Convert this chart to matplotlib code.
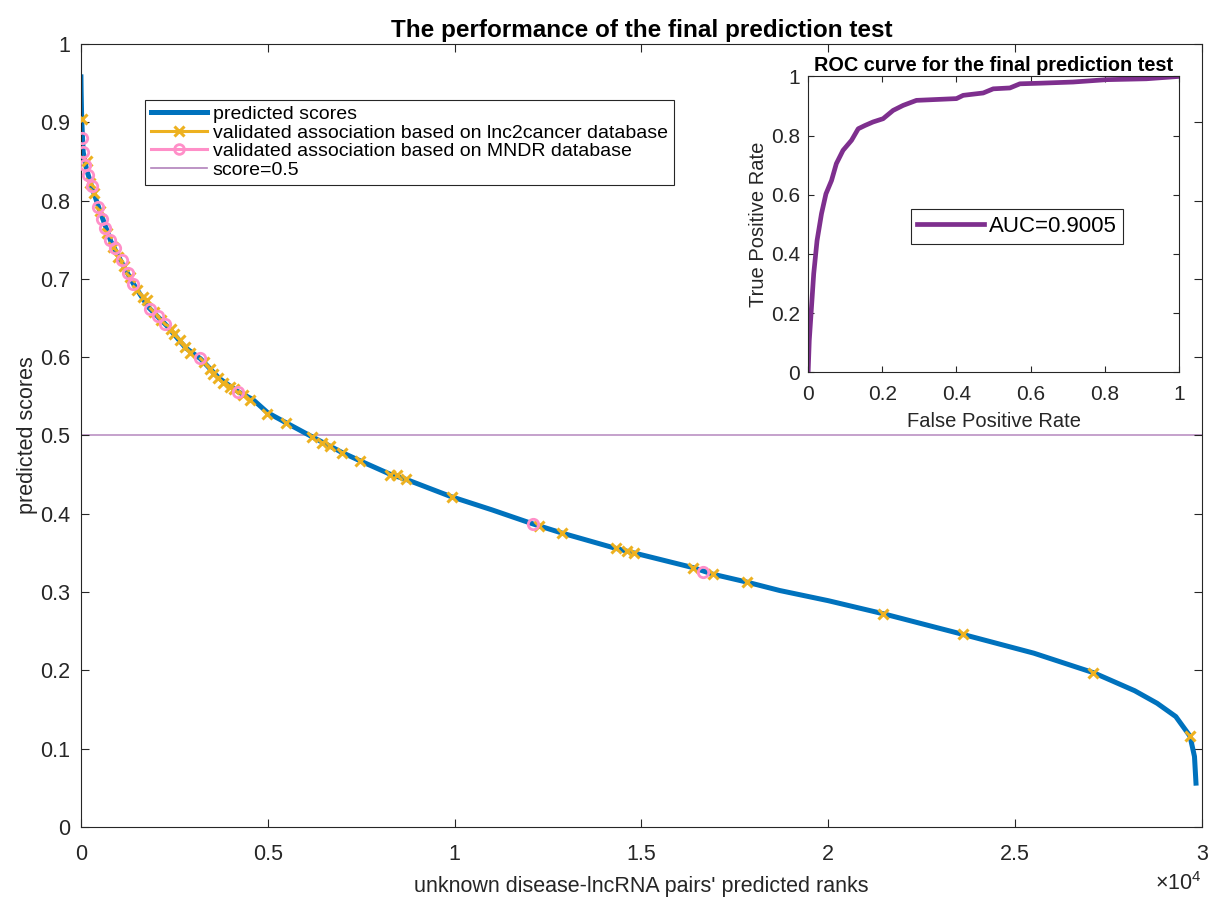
import matplotlib
matplotlib.use('Agg')
import matplotlib.pyplot as plt
from matplotlib.lines import Line2D

plt.rcParams['font.family'] = ['Liberation Sans', 'DejaVu Sans']
plt.rcParams['mathtext.fontset'] = 'custom'
plt.rcParams['mathtext.rm'] = 'Liberation Sans'

# predicted score curve (rank, score)
curve_rank = [0, 5, 20, 60, 150, 300, 500, 800, 1100, 1400, 1800, 2300, 2800, 3200,
              3700, 4200, 4600, 5000, 5500, 6200, 7000, 7500, 8300, 8700, 9900,
              11000, 12100, 12900, 14300, 14800, 16400, 16900, 17800, 18700, 20000,
              21500, 23600, 25500, 27100, 28200, 28800, 29300, 29680, 29800, 29840]
curve_score = [0.958, 0.94, 0.904, 0.862, 0.84, 0.816, 0.788, 0.748, 0.72, 0.694,
               0.664, 0.640, 0.612, 0.598, 0.573, 0.556, 0.546, 0.529, 0.516, 0.498,
               0.478, 0.467, 0.450, 0.444, 0.422, 0.405, 0.387, 0.375, 0.356, 0.350,
               0.331, 0.323, 0.313, 0.302, 0.289, 0.272, 0.246, 0.222, 0.197, 0.174,
               0.158, 0.141, 0.116, 0.09, 0.056]

# validated associations, lnc2cancer
lnc_rank = [20, 150, 250, 350, 500, 700, 850, 1000, 1150, 1300, 1490, 1650, 1757,
            1950, 2150, 2400, 2500, 2650, 2783, 2917, 3300, 3450, 3541, 3675, 3809,
            3987, 4100, 4350, 4522, 4968, 5486, 6182, 6450, 6664, 6985, 7467, 8269,
            8450, 8697, 9928, 12250, 12872, 14317, 14611, 14800, 16378, 16913, 17823,
            21463, 23604, 27083, 29679]
lnc_score = [0.904, 0.850, 0.822, 0.810, 0.787, 0.758, 0.741, 0.728, 0.717, 0.703,
             0.686, 0.677, 0.673, 0.658, 0.648, 0.636, 0.630, 0.622, 0.613, 0.605,
             0.594, 0.585, 0.579, 0.573, 0.567, 0.562, 0.559, 0.552, 0.545, 0.528,
             0.516, 0.498, 0.490, 0.487, 0.478, 0.467, 0.450, 0.449, 0.444, 0.422,
             0.385, 0.375, 0.356, 0.352, 0.350, 0.331, 0.323, 0.313, 0.272, 0.246,
             0.197, 0.116]

# validated associations, MNDR
mndr_rank = [19, 62, 107, 196, 286, 464, 553, 642, 776, 910, 1088, 1266, 1400, 1846,
             2069, 2248, 3184, 4209, 12096, 16646]
mndr_score = [0.880, 0.862, 0.845, 0.833, 0.818, 0.792, 0.777, 0.765, 0.750, 0.739,
              0.724, 0.707, 0.694, 0.662, 0.652, 0.643, 0.599, 0.556, 0.387, 0.326]

# ROC curve
fpr = [0, 0.003, 0.009, 0.015, 0.024, 0.036, 0.048, 0.063, 0.076, 0.094, 0.117, 0.135,
       0.153, 0.175, 0.202, 0.229, 0.256, 0.292, 0.328, 0.400, 0.418, 0.472, 0.499,
       0.544, 0.571, 0.624, 0.714, 0.804, 0.912, 1.0]
tpr = [0, 0.107, 0.22, 0.333, 0.445, 0.536, 0.603, 0.648, 0.705, 0.750, 0.784, 0.823,
       0.834, 0.846, 0.857, 0.885, 0.902, 0.919, 0.921, 0.925, 0.936, 0.944, 0.958,
       0.961, 0.975, 0.977, 0.981, 0.989, 0.992, 1.0]

blue = '#0072BD'
orange = '#EDB120'
pink = '#FF8FC8'
purple = '#7E2F8E'
grey = '#262626'

fig = plt.figure(figsize=(12.08, 8.99), dpi=100)
ax = fig.add_axes([0.067, 0.0801, 0.928, 0.871])

ax.plot(curve_rank, curve_score, color=blue, lw=3.6, zorder=2)
ax.plot(lnc_rank, lnc_score, ls='none', marker='x', ms=7, mew=2.2, color=orange, zorder=3)
ax.plot(mndr_rank, mndr_score, ls='none', marker='o', ms=7.5, mew=2, mfc='none',
        mec=pink, zorder=4)
ax.axhline(0.5, color=purple, lw=1.4, alpha=0.45, zorder=1)

ax.set_xlim(0, 30000)
ax.set_ylim(0, 1)
ax.set_xticks([0, 5000, 10000, 15000, 20000, 25000, 30000])
ax.set_xticklabels(['0', '0.5', '1', '1.5', '2', '2.5', '3'])
ax.set_yticks([i / 10 for i in range(11)])
ax.set_yticklabels(['0', '0.1', '0.2', '0.3', '0.4', '0.5', '0.6', '0.7', '0.8', '0.9', '1'])
ax.tick_params(direction='in', length=6, width=0.8, colors=grey, labelsize=15.5,
               top=True, right=True, pad=8)
ax.tick_params(axis='x', pad=12)
for sp in ax.spines.values():
    sp.set_color(grey)
    sp.set_linewidth(0.8)
ax.set_xlabel("unknown disease-lncRNA pairs' predicted ranks", fontsize=15.5, color=grey,
              labelpad=8)
ax.set_ylabel('predicted scores', fontsize=15.5, color=grey, labelpad=1)
ax.set_title('The performance of the final prediction test', fontsize=17.5,
             fontweight='bold', pad=5)
ax.text(1.0, -0.057, r'$\mathregular{\times10^4}$', transform=ax.transAxes,
        ha='right', va='top', fontsize=15.5, color=grey)

handles = [
    Line2D([], [], color=blue, lw=3.6),
    Line2D([], [], color=orange, lw=2.2, marker='x', ms=7, mew=2.2),
    Line2D([], [], color=pink, lw=2.2, marker='o', ms=7, mew=2, mfc='none'),
    Line2D([], [], color=purple, lw=1.2, alpha=0.6),
]
labels = ['predicted scores', 'validated association based on lnc2cancer database',
          'validated association based on MNDR database', 'score=0.5']
leg = ax.legend(handles, labels, loc='upper left', bbox_to_anchor=(0.057, 0.929),
                borderaxespad=0, fontsize=14, fancybox=False, framealpha=1,
                edgecolor=grey, handlelength=2.9, handletextpad=0.3,
                labelspacing=0.05, borderpad=0.3)
leg.get_frame().set_linewidth(0.8)

# inset ROC
ins = fig.add_axes([0.669, 0.586, 0.307, 0.329])
ins.plot(fpr, tpr, color=purple, lw=3.4, label='AUC=0.9005')
ins.set_xlim(0, 1)
ins.set_ylim(0, 1)
ins.set_xticks([0, 0.2, 0.4, 0.6, 0.8, 1])
ins.set_xticklabels(['0', '0.2', '0.4', '0.6', '0.8', '1'])
ins.set_yticks([0, 0.2, 0.4, 0.6, 0.8, 1])
ins.set_yticklabels(['0', '0.2', '0.4', '0.6', '0.8', '1'])
ins.tick_params(direction='in', length=4, width=0.8, colors=grey, labelsize=15,
                top=True, right=True, pad=6)
ins.tick_params(axis='x', pad=9)
for sp in ins.spines.values():
    sp.set_color(grey)
    sp.set_linewidth(0.8)
ins.set_xlabel('False Positive Rate', fontsize=14.5, color=grey, labelpad=6)
ins.set_ylabel('True Positive Rate', fontsize=14.5, color=grey, labelpad=2)
ins.set_title('ROC curve for the final prediction test', fontsize=14.3,
              fontweight='bold', pad=4)
ileg = ins.legend(loc='center', bbox_to_anchor=(0.563, 0.493), fontsize=16,
                  fancybox=False, framealpha=1, edgecolor=grey, handlelength=3.0,
                  handletextpad=0.2, borderpad=0.3)
ileg.get_frame().set_linewidth(0.8)

fig.savefig('out.png', dpi=100)
